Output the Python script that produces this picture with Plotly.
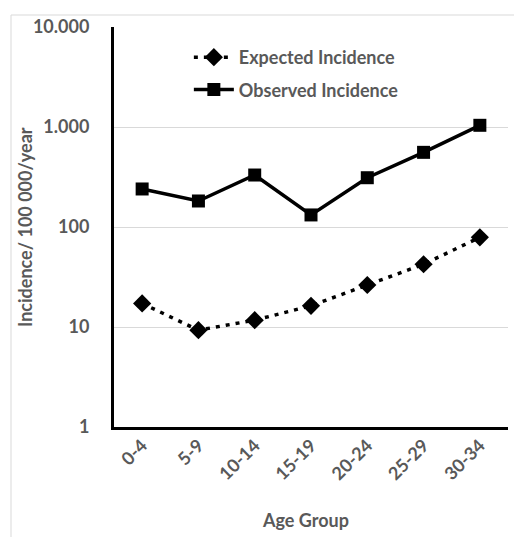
import plotly.graph_objects as go

age_groups = ["0-4", "5-9", "10-14", "15-19", "20-24", "25-29", "30-34"]
expected = [17.2, 9.3, 11.7, 16.3, 26.3, 42.4, 78.8]
observed = [240, 182, 331, 132, 311, 558, 1040]
y_tickvals = [1, 10, 100, 1000, 10000]
y_ticktext = ["1", "10", "100", "1.000", "10.000"]

FONT = "Lato"
GREY = "#595959"
L, T, W, H = 114, 27, 394, 400

def px_x(p):
    return (p - L) / W

def px_y(p):
    return (T + H - p) / H

fig = go.Figure()
fig.add_trace(go.Scatter(
    x=age_groups, y=expected, name="Expected Incidence", mode="lines+markers",
    legendgroup="e",
    line=dict(color="black", width=3.5, dash="4px,6px"),
    marker=dict(symbol="diamond", size=14, color="black"),
))
fig.add_trace(go.Scatter(
    x=age_groups, y=observed, name="Observed Incidence", mode="lines+markers",
    legendgroup="o",
    line=dict(color="black", width=3.5),
    marker=dict(symbol="square", size=13, color="black"),
))

fig.update_layout(
    width=514, height=537,
    margin=dict(l=L, r=514 - L - W, t=T, b=537 - T - H),
    paper_bgcolor="white", plot_bgcolor="white",
    font=dict(family=FONT, color=GREY, size=18),
    legend=dict(x=0.19, y=0.97, xanchor="left", yanchor="top",
                bgcolor="rgba(0,0,0,0)", font=dict(family=FONT, size=18, color=GREY, weight="bold"),
                tracegroupgap=6, itemwidth=40, traceorder="grouped"),
    showlegend=True,
)
fig.update_xaxes(
    type="category", range=[-0.5, 6.5], automargin=False,
    showline=True, linecolor="black", linewidth=3,
    showgrid=False, ticks="", tickangle=-45, ticklabelstandoff=-2,
    tickfont=dict(family=FONT, size=18, color=GREY, weight="bold"),
)
fig.update_yaxes(
    type="log", range=[0, 4], automargin=False,
    tickvals=y_tickvals, ticktext=y_ticktext,
    showline=True, linecolor="black", linewidth=3,
    showgrid=True, gridcolor="#d9d9d9", gridwidth=1,
    ticks="", ticklabelstandoff=18,
    tickfont=dict(family=FONT, size=18, color=GREY, weight="bold"),
    zeroline=False,
)
# axis titles
fig.add_annotation(text="<b>Age Group</b>", xref="paper", yref="paper",
                   x=px_x(305), y=px_y(520), xanchor="center", yanchor="middle",
                   showarrow=False, font=dict(family=FONT, size=18, color=GREY))
fig.add_annotation(text="<b>Incidence/ 100 000/year</b>", xref="paper", yref="paper",
                   x=px_x(25), y=px_y(227), xanchor="center", yanchor="middle",
                   showarrow=False, textangle=-90,
                   font=dict(family=FONT, size=18, color=GREY))
# outer chart frame
fig.add_shape(type="rect", xref="paper", yref="paper",
              x0=px_x(11), x1=px_x(530), y0=px_y(550), y1=px_y(15),
              line=dict(color="#d9d9d9", width=1), layer="below")

fig.write_html("out.html", config={"displayModeBar": False},
               post_script="document.body.style.margin='0';")
